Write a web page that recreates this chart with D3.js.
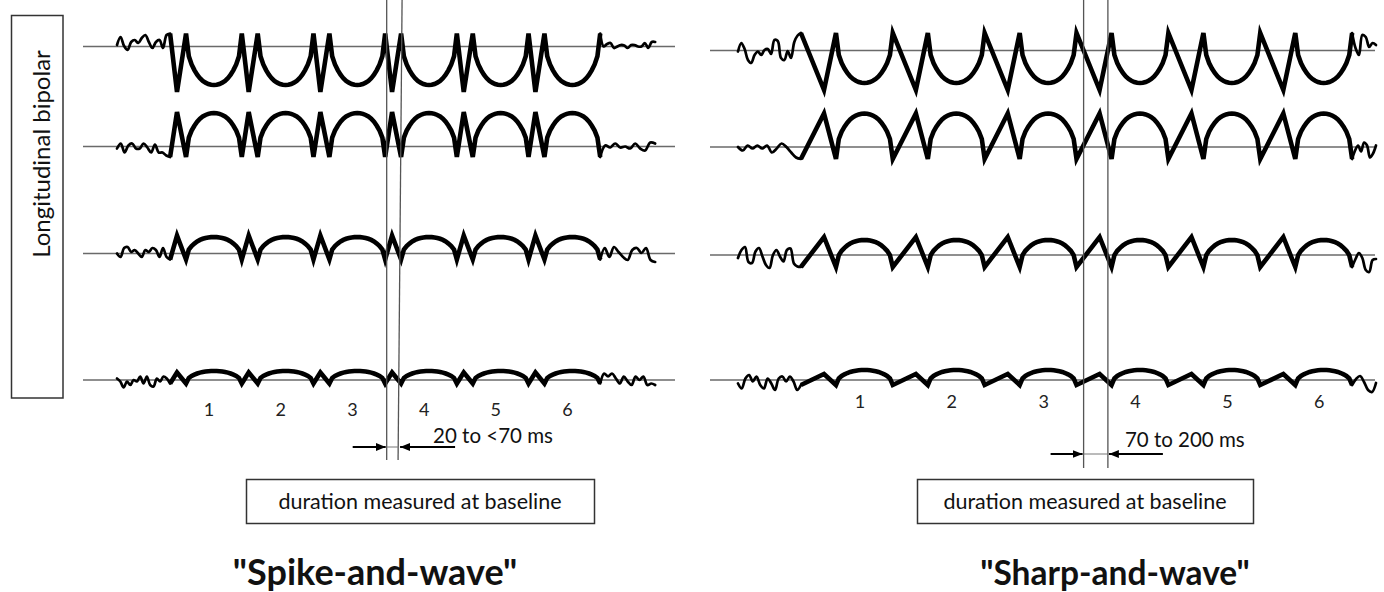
<!DOCTYPE html>
<html>
<head>
<meta charset="utf-8">
<script src="https://cdn.jsdelivr.net/npm/d3@7"></script>
<style>
  html, body { margin: 0; padding: 0; background: #fff; }
  svg { display: block; font-family: Lato, "Open Sans", "DejaVu Sans", sans-serif; }
</style>
</head>
<body>
<svg id="chart" width="1384" height="592"></svg>
<script>
// ---------------------------------------------------------------
// Data
// ---------------------------------------------------------------
const complexLabels = ["1", "2", "3", "4", "5", "6"];

// Spike-and-wave: timing of each discharge (ms)
const spikeOnsetMs = 200;   // background before the first discharge
const spikePeriodMs = 270;  // one spike + slow wave
const spikeTipMs = 26;      // time from onset to spike peak
const spikeDurMs = 60;      // spike duration
const spikeTailMs = 207;    // background after the last discharge

// Sharp-and-wave: timing of each discharge (ms)
const sharpOnsetMs = 237;
const sharpPeriodMs = 346;
const sharpTipMs = 87;
const sharpDurMs = 132;
const sharpTailMs = 90;

// Amplitudes per channel, top to bottom (µV, positive = up)
const spikeEdgeUv = [26, -21, -12, -7];   // level where spike starts / ends
const spikePeakUv = [-91, 69, 36, 15];    // spike peak
const spikeSlowUv = [-77, 67, 33, 18];    // slow-wave extreme

const sharpEdgeUv = [35, -24, -24, -10];
const sharpPeakUv = [-79, 67, 36, 12];
const sharpSlowUv = [-65, 67, 30, 20];

// Slow-wave profile: fraction of the slow-wave swing across its duration
const slowWaveShape = [0, 0.44, 0.6, 0.71, 0.8, 0.87, 0.92, 0.955, 0.98, 0.995, 1,
                       0.995, 0.98, 0.955, 0.92, 0.87, 0.8, 0.71, 0.6, 0.44, 0];

// Background activity before / after the discharges (µV, evenly spaced samples)
const spikePreUv = [
  [3, 19, 1, -7, 9, 13, 7, 17, 23, 9, -3, 9, 13, -3, 23, 26],
  [-4, 6, -12, 2, 6, -4, -4, 6, -2, -12, 4, -12, -12, -18, -21],
  [0, -7, 11, 13, 3, 7, 0, -7, 7, 3, 11, 7, -7, 11, -7, -12],
  [3, -3, -15, -3, -10, 0, -3, 7, -7, 7, -10, -13, 3, -3, 7, 3, -7]
];
const spikePostUv = [
  [26, 0, 5, 7, -3, 0, 3, 2, -3, 3, 3, 0, 0, 7, -3, 9, 9],
  [-21, 2, -2, 6, -2, 0, -4, 6, -4, -8, 8, 6],
  [-12, 11, -7, 13, 3, -7, -13, 7, 11, 1, 11, -13, -17],
  [-7, 13, 7, 13, 3, -7, 7, -3, -10, 7, 0, 7, -10, -7, -10]
];
const sharpPreUv = [
  [-2, 15, 3, -19, -25, -9, -2, -9, 1, 3, -7, 21, 19, -15, -19, -1, -15, 17, 30, 35],
  [0, -7, 3, -3, 3, -3, 3, -11, -3, 7, 0, -11, -21, -24],
  [-6, 10, 16, -14, -16, 7, 14, -3, -20, -26, 0, 10, -3, -13, 10, 13, -17, -23, -24],
  [-7, -17, 3, 10, -3, 7, -10, -17, 3, -7, -20, 3, 7, -3, 7, -3, -20, -10]
];
const sharpPostUv = [
  [35, 5, -9, 31, 27, 7, 15, 11],
  [-24, -7, 3, -9, 9, 3, -21, -13, 3],
  [-24, -8, 4, -6, -30, -34, -10, -8],
  [-10, 2, 8, -4, -20, -24, -6]
];

const durationTexts = ["20 to <70 ms", "70 to 200 ms"];
const panelTitles = ["\"Spike-and-wave\"", "\"Sharp-and-wave\""];
const boxText = "duration measured at baseline";
const montageLabel = "Longitudinal bipolar";
const measuredComplex = 3;   // the discharge whose duration is marked
const measuredChannel = 0;

// ---------------------------------------------------------------
// Layout
// ---------------------------------------------------------------
const W = 1384, H = 592;
const PX_PER_MS = 0.2655;
const UV_RANGE = 100, PX_PER_UV = 0.5;

const panels = [
  {
    onset: spikeOnsetMs, period: spikePeriodMs, tip: spikeTipMs, dur: spikeDurMs, tail: spikeTailMs,
    edge: spikeEdgeUv, peak: spikePeakUv, slow: spikeSlowUv, pre: spikePreUv, post: spikePostUv,
    x0: 117, baselines: [46.5, 146.5, 253.5, 380], lineExtent: [83, 675],
    markerBottom: 460, markerLean: [0, 3],
    arrowY: 447, outerArrow: 34, innerArrow: 56,
    rangeText: durationTexts[0], rangeTextDx: 34, rangeTextY: 443,
    labelDxPx: 39, labelY: 416,
    box: [246, 479, 348, 44],
    title: panelTitles[0], titleX: 375, titleY: 585, titleSize: 36
  },
  {
    onset: sharpOnsetMs, period: sharpPeriodMs, tip: sharpTipMs, dur: sharpDurMs, tail: sharpTailMs,
    edge: sharpEdgeUv, peak: sharpPeakUv, slow: sharpSlowUv, pre: sharpPreUv, post: sharpPostUv,
    x0: 738, baselines: [50.5, 147, 255, 380], lineExtent: [710, 1375],
    markerBottom: 468, markerLean: [0, 0],
    arrowY: 454, outerArrow: 33, innerArrow: 55,
    rangeText: durationTexts[1], rangeTextDx: 17, rangeTextY: 447,
    labelDxPx: 59, labelY: 408,
    box: [917, 479, 336, 44],
    title: panelTitles[1], titleX: 1115, titleY: 585, titleSize: 33.5
  }
];

const svg = d3.select("#chart");
svg.append("rect").attr("width", W).attr("height", H).attr("fill", "#fff");

const defs = svg.append("defs");
defs.append("marker")
  .attr("id", "arrowhead")
  .attr("viewBox", "0 0 10 8")
  .attr("refX", 10).attr("refY", 4)
  .attr("markerWidth", 10).attr("markerHeight", 8)
  .attr("markerUnits", "userSpaceOnUse")
  .attr("orient", "auto")
  .append("path").attr("d", "M0,0 L10,4 L0,8 Z").attr("fill", "#000");

const mainLine = d3.line().x(d => d.x).y(d => d.y).curve(d3.curveLinear);
const noiseLine = d3.line().x(d => d.x).y(d => d.y).curve(d3.curveCatmullRom.alpha(0.5));

// Montage label box
svg.append("rect")
  .attr("x", 11.5).attr("y", 15.5).attr("width", 51.5).attr("height", 382.5)
  .attr("fill", "none").attr("stroke", "#333").attr("stroke-width", 1.5);
svg.append("text")
  .attr("transform", "translate(50,154) rotate(-90)")
  .attr("text-anchor", "middle")
  .attr("font-size", 24)
  .attr("fill", "#111")
  .text(montageLabel);

panels.forEach(p => {
  const endMs = p.onset + complexLabels.length * p.period;
  const totalMs = endMs + p.tail;
  const x = d3.scaleLinear().domain([0, totalMs]).range([p.x0, p.x0 + totalMs * PX_PER_MS]);
  const g = svg.append("g");

  // Baselines
  p.baselines.forEach(b => {
    g.append("line")
      .attr("x1", p.lineExtent[0]).attr("x2", p.lineExtent[1])
      .attr("y1", b).attr("y2", b)
      .attr("stroke", "#6a6a6a").attr("stroke-width", 1.3);
  });

  // Channels
  p.baselines.forEach((b, ci) => {
    const y = d3.scaleLinear().domain([-UV_RANGE, UV_RANGE])
      .range([b + UV_RANGE * PX_PER_UV, b - UV_RANGE * PX_PER_UV]);
    const edge = p.edge[ci], peak = p.peak[ci], slow = p.slow[ci];

    // background before
    const pre = p.pre[ci];
    const prePts = pre.map((v, i) => ({ x: x(p.onset * i / (pre.length - 1)), y: y(v) }));
    // background after
    const post = p.post[ci];
    const postPts = post.map((v, i) => ({ x: x(endMs + p.tail * i / (post.length - 1)), y: y(v) }));

    // discharges
    const pts = [];
    complexLabels.forEach((lab, k) => {
      const s = p.onset + k * p.period;
      if (k === 0) pts.push({ x: x(s), y: y(edge) });
      pts.push({ x: x(s + p.tip), y: y(peak) });
      pts.push({ x: x(s + p.dur), y: y(edge) });
      const n = slowWaveShape.length - 1;
      for (let j = 1; j <= n; j++) {
        const t = s + p.dur + (p.period - p.dur) * j / n;
        pts.push({ x: x(t), y: y(edge + (slow - edge) * slowWaveShape[j]) });
      }
    });

    [prePts, postPts].forEach(np => {
      g.append("path").attr("d", noiseLine(np))
        .attr("fill", "none").attr("stroke", "#000")
        .attr("stroke-width", 2.7).attr("stroke-linejoin", "round").attr("stroke-linecap", "round");
    });
    g.append("path").attr("d", mainLine(pts))
      .attr("fill", "none").attr("stroke", "#000")
      .attr("stroke-width", 4.6).attr("stroke-linejoin", "miter").attr("stroke-miterlimit", 4)
      .attr("stroke-linecap", "butt");
  });

  // Duration markers at the baseline crossings of the measured discharge
  const ci = measuredChannel;
  const s = p.onset + measuredComplex * p.period;
  const e = p.edge[ci], pk = p.peak[ci];
  const tIn = s + p.tip * e / (e - pk);
  const tOut = s + p.tip + (p.dur - p.tip) * pk / (pk - e);
  const mx = [x(tIn), x(tOut)];
  mx.forEach((m, i) => {
    g.append("line")
      .attr("x1", m + p.markerLean[i]).attr("x2", m - p.markerLean[i] / 3)
      .attr("y1", 0).attr("y2", p.markerBottom)
      .attr("stroke", "#555").attr("stroke-width", 1.3);
  });
  // connector between markers
  g.append("line")
    .attr("x1", mx[0]).attr("x2", mx[1]).attr("y1", p.arrowY).attr("y2", p.arrowY)
    .attr("stroke", "#777").attr("stroke-width", 1);
  // arrows pointing at the markers
  g.append("line")
    .attr("x1", mx[0] - p.outerArrow).attr("x2", mx[0] - 1)
    .attr("y1", p.arrowY).attr("y2", p.arrowY)
    .attr("stroke", "#000").attr("stroke-width", 2).attr("marker-end", "url(#arrowhead)");
  g.append("line")
    .attr("x1", mx[1] + p.innerArrow).attr("x2", mx[1] + 1)
    .attr("y1", p.arrowY).attr("y2", p.arrowY)
    .attr("stroke", "#000").attr("stroke-width", 2).attr("marker-end", "url(#arrowhead)");
  g.append("text")
    .attr("x", mx[1] + p.rangeTextDx).attr("y", p.rangeTextY)
    .attr("font-size", 20.5).attr("fill", "#111")
    .text(p.rangeText);

  // Discharge numbers
  g.selectAll("text.num").data(complexLabels).join("text")
    .attr("class", "num")
    .attr("x", (d, k) => x(p.onset + k * p.period) + p.labelDxPx)
    .attr("y", p.labelY)
    .attr("text-anchor", "middle")
    .attr("font-size", 18).attr("fill", "#222")
    .text(d => d);

  // Caption box
  g.append("rect")
    .attr("x", p.box[0] + 0.5).attr("y", p.box[1] + 0.5)
    .attr("width", p.box[2]).attr("height", p.box[3])
    .attr("fill", "#fff").attr("stroke", "#333").attr("stroke-width", 1.5);
  g.append("text")
    .attr("x", p.box[0] + p.box[2] / 2).attr("y", p.box[1] + 30)
    .attr("text-anchor", "middle")
    .attr("font-size", 21.5).attr("fill", "#111")
    .text(boxText);

  // Panel title
  g.append("text")
    .attr("x", p.titleX).attr("y", p.titleY)
    .attr("text-anchor", "middle")
    .attr("font-size", p.titleSize).attr("font-weight", "bold").attr("fill", "#111")
    .text(p.title);
});
</script>
</body>
</html>
